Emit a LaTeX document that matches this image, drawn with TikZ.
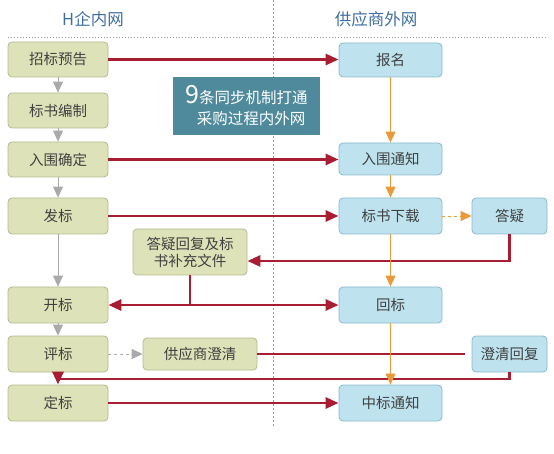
\documentclass[tikz,border=0pt]{standalone}
\usepackage{fontspec}
\setmainfont{Noto Sans CJK SC}
\usetikzlibrary{arrows.meta,calc}
\definecolor{gfill}{HTML}{DDE2B8}
\definecolor{gdraw}{HTML}{B4B98F}
\definecolor{bfill}{HTML}{BEE3EE}
\definecolor{bdraw}{HTML}{8AB8CA}
\definecolor{redc}{HTML}{A81D31}
\definecolor{grayc}{HTML}{AAAAAA}
\definecolor{orc}{HTML}{E99A3A}
\definecolor{tealc}{HTML}{4E8A9B}
\definecolor{titlec}{HTML}{3F6FA0}
\definecolor{txt}{HTML}{404040}
\definecolor{sepc}{HTML}{8F9CB0}
\tikzset{
  boxbase/.style={rounded corners=4pt, line width=0.8pt, inner sep=0pt, align=center, text=txt, font=\fontsize{14.5}{17}\selectfont},
  gbox/.style={boxbase, draw=gdraw, fill=gfill, minimum width=100pt, minimum height=35pt},
  bbox/.style={boxbase, draw=bdraw, fill=bfill, minimum width=103pt, minimum height=35pt},
  redarr/.style={draw=redc, line width=2.8pt, -{Triangle[length=13pt,width=11pt]}},
  redln/.style={draw=redc, line width=2.8pt},
  grayarr/.style={draw=grayc, line width=0.9pt, -{Triangle[length=11pt,width=10pt]}},
  orarr/.style={draw=orc, line width=0.9pt, -{Triangle[length=11pt,width=10pt]}},
  titletxt/.style={text=titlec, font=\fontsize{16.5}{20}\selectfont},
}
\begin{document}
\begin{tikzpicture}[x=1pt,y=-1pt]
\useasboundingbox (0,0) rectangle (554,454);
% separators
\draw[sepc, line width=0.7pt, dash pattern=on 1.2pt off 1.8pt] (8,37) -- (548,37);
\draw[sepc, line width=0.7pt, dash pattern=on 2pt off 2pt] (273,0) -- (273,428);
% titles
\node[titletxt] (t1) at (93,19) {H企内网};
\node[titletxt] (t2) at (376,19) {供应商外网};
% left column
\node[gbox] (zbyg) at (58,59.5) {招标预告};
\node[gbox] (bszb) at (58,110.5) {标书编制};
\node[gbox] (rwqd) at (58,159.5) {入围确定};
\node[gbox, minimum height=36pt] (fb) at (58,216) {发标};
\node[gbox, minimum height=36pt] (kb) at (58,305) {开标};
\node[gbox, minimum height=36pt] (pb) at (58,354) {评标};
\node[gbox, minimum height=36pt] (db) at (58,403) {定标};
\node[gbox, minimum width=114pt, minimum height=46pt] (dyhf) at (190,252) {答疑回复及标\\书补充文件};
\node[gbox, minimum width=114pt, minimum height=32pt] (gyscq) at (200,354) {供应商澄清};
% right column
\node[bbox, minimum height=34pt] (bm) at (390.5,60) {报名};
\node[bbox, minimum height=32pt] (rwtz) at (390.5,159) {入围通知};
\node[bbox, minimum height=36pt] (bsxz) at (390.5,216) {标书下载};
\node[bbox, minimum height=36pt] (hb) at (390.5,305) {回标};
\node[bbox, minimum height=36pt] (zbtz) at (390.5,403) {中标通知};
\node[bbox, minimum width=75pt, minimum height=36pt] (dy) at (509.5,216) {答疑};
\node[bbox, minimum width=75pt, minimum height=36pt] (cqhf) at (509.5,354) {澄清回复};
% teal banner
\node[fill=tealc, minimum width=147pt, minimum height=58pt, inner sep=0pt, text=white, align=center,
      font=\fontsize{15.5}{21}\selectfont] (banner) at (246.5,106)
      {{\fontsize{25}{21}\selectfont 9}条同步机制打通\\\hspace*{0.6em}采购过程内外网};
% coordinates
\coordinate (c1) at (509.5,261);
\coordinate (c2) at (509.5,379);
% red connectors
\draw[redarr] (zbyg.east) -- (zbyg.east -| bm.west);
\draw[redarr] (rwqd.east) -- (rwqd.east -| rwtz.west);
\draw[redarr] (fb.east) -- (bsxz.west);
\draw[redarr] (dy.south) |- (dyhf.east |- c1);
\draw[redarr] (dyhf.south) |- (kb.east);
\draw[redarr] (dyhf.south) |- (hb.west);
\draw[redln, shorten >=7pt] (gyscq.east) -- (gyscq.east -| cqhf.west);
\draw[redarr] (cqhf.south) -- (c2) -- (db.north |- c2) -- (db.north);
\draw[redarr] (db.east) -- (zbtz.west);
% gray connectors
\draw[grayarr] (zbyg.south) -- (bszb.north);
\draw[grayarr] (bszb.south) -- (rwqd.north);
\draw[grayarr] (rwqd.south) -- (fb.north);
\draw[grayarr] (fb.south) -- (kb.north);
\draw[grayarr] (kb.south) -- (pb.north);
\draw[grayarr, dashed] (pb.east) -- (gyscq.west);
% orange connectors
\draw[orarr] (bm.south) -- (rwtz.north);
\draw[orarr] (rwtz.south) -- (bsxz.north);
\draw[orarr, dashed] (bsxz.east) -- (dy.west);
\draw[orarr] (bsxz.south) -- (hb.north);
\draw[orarr] (hb.south) -- (zbtz.north);
\end{tikzpicture}
\end{document}
